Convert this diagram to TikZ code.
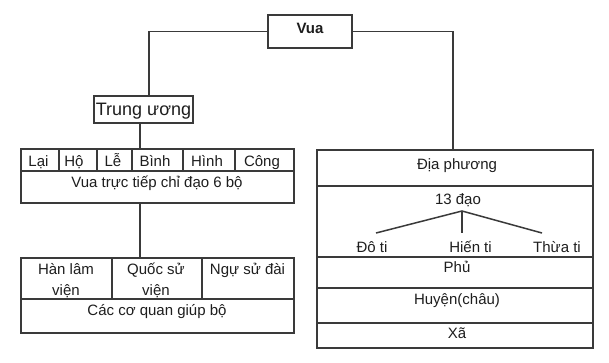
\documentclass[tikz,border=0pt]{standalone}
\usepackage{fontspec}
\setmainfont{Liberation Sans}
\definecolor{linec}{HTML}{3A3A3A}
\definecolor{textc}{HTML}{1E1E1E}
\tikzset{
  cell/.style={draw=linec, line width=1.4pt, inner sep=0pt, fill=none},
  thickcell/.style={draw=linec, line width=2pt, inner sep=0pt},
  txt/.style={anchor=base, inner sep=0pt, text=textc, font=\fontsize{15}{18}\selectfont},
  bigtxt/.style={anchor=base, inner sep=0pt, text=textc, font=\fontsize{18}{21}\selectfont},
  conn/.style={draw=linec, line width=1.3pt},
  fork/.style={draw=linec, line width=1.5pt}
}
\newcommand\mycell[6][cell]{\node[#1,minimum width={#5pt-#3pt},minimum height={#6pt-#4pt}] (#2) at ({(#3+#5)/2},{(#4+#6)/2}) {};}
\begin{document}
\begin{tikzpicture}[x=1pt,y=-1pt]
\useasboundingbox[fill=white] (0,0) rectangle (609,362);
% Vua
\mycell{vua}{268}{15}{352}{48}
\node[txt,font=\fontsize{15}{18}\selectfont\bfseries] (tvua) at (310,33) {Vua};
% Trung uong
\mycell{trung}{94}{96}{193}{123}
\node[bigtxt] (ttrung) at (143.5,115) {Trung ương};
% 6 bo table
\mycell{bo}{21}{149}{294}{203}
\mycell{lai}{21}{149}{59}{171}
\mycell{ho}{59}{149}{97}{171}
\mycell{le}{97}{149}{132}{171}
\mycell{binh}{132}{149}{183}{171}
\mycell{hinh}{183}{149}{235}{171}
\mycell{cong}{235}{149}{294}{171}
\node[txt] (tlai) at (38.5,166) {Lại};
\node[txt] (tho) at (74,166) {Hộ};
\node[txt] (tle) at (113,166) {Lễ};
\node[txt] (tbinh) at (155,166) {Bình};
\node[txt] (thinh) at (207,166) {Hình};
\node[txt] (tcong) at (262,166) {Công};
\node[txt] (tbo) at (157,187) {Vua trực tiếp chỉ đạo 6 bộ};
% co quan table
\mycell{cq}{21}{258}{294}{333}
\mycell{hl}{21}{258}{112}{299}
\mycell{qs}{112}{258}{202}{299}
\mycell{ns}{202}{258}{294}{299}
\node[txt] (thl1) at (66,274) {Hàn lâm};
\node[txt] (thl2) at (66,295) {viện};
\node[txt] (tqs1) at (156,274) {Quốc sử};
\node[txt] (tqs2) at (156,295) {viện};
\node[txt] (tns) at (247.5,274) {Ngự sử đài};
\node[txt] (tcq) at (157,315) {Các cơ quan giúp bộ};
% Dia phuong
\mycell[thickcell]{dia}{317}{150}{593}{348}
\mycell[thickcell]{dp}{317}{150}{593}{186}
\mycell[thickcell]{dao}{317}{186}{593}{257}
\mycell[thickcell]{phu}{317}{257}{593}{288}
\mycell[thickcell]{huyen}{317}{288}{593}{323}
\node[txt] (tdp) at (457,169) {Địa phương};
\node[txt] (tdao) at (458,204) {13 đạo};
\node[txt] (tdoti) at (372,252) {Đô ti};
\node[txt] (thien) at (470.5,252) {Hiến ti};
\node[txt] (tthua) at (557,252) {Thừa ti};
\node[txt] (tphu) at (457,272) {Phủ};
\node[txt] (thuyen) at (457,304) {Huyện(châu)};
\node[txt] (txa) at (457,338) {Xã};
% fork
\coordinate (apex) at (462,211);
\coordinate (e1) at (376,233);
\coordinate (e2) at (462,233);
\coordinate (e3) at (542,233);
\draw[fork] (e1) -- (apex) -- (e3);
\draw[fork] (apex) -- (e2);
% connectors
\coordinate (lx) at (149,0);
\coordinate (rx) at (453,0);
\coordinate (cx) at (140,0);
\draw[conn] (vua.west) -| (trung.north -| lx);
\draw[conn] (vua.east) -| (dia.north -| rx);
\draw[conn] (trung.south -| cx) -- (bo.north -| cx);
\draw[conn] (bo.south -| cx) -- (cq.north -| cx);
\end{tikzpicture}
\end{document}
